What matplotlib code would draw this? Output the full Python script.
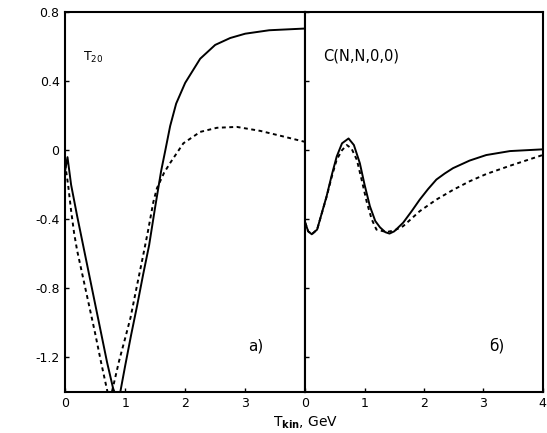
import matplotlib.pyplot as plt

# left panel: T20 (values below -1.4 get clipped by the axis, as in the original)
t20_x = [0, 0.04, 0.1, 0.2, 0.3, 0.4, 0.5, 0.6, 0.7, 0.8, 0.865, 0.92, 1.0, 1.1, 1.2, 1.3, 1.4,
         1.5, 1.6, 1.67, 1.75, 1.85, 2.0, 2.25, 2.5, 2.75, 3.0, 3.4, 4.0]
t20_solid = [-0.12, -0.04, -0.2, -0.38, -0.55, -0.72, -0.89, -1.06, -1.23, -1.38, -1.44, -1.4, -1.25,
             -1.07, -0.9, -0.72, -0.55, -0.33, -0.12, 0.0, 0.14, 0.27, 0.39, 0.53, 0.61, 0.65, 0.675, 0.695, 0.705]

t20d_x = [0, 0.05, 0.1, 0.15, 0.2, 0.3, 0.4, 0.5, 0.6, 0.7, 0.725, 0.78, 0.9, 1.0, 1.09, 1.2, 1.3,
          1.38, 1.47, 1.53, 1.65, 1.75, 1.97, 2.25, 2.53, 2.86, 3.25, 3.63, 4.0]
t20_dash = [-0.08, -0.2, -0.35, -0.48, -0.58, -0.74, -0.9, -1.06, -1.23, -1.39, -1.43, -1.4, -1.22,
            -1.09, -0.97, -0.78, -0.61, -0.47, -0.3, -0.22, -0.13, -0.074, 0.04, 0.106, 0.13, 0.135,
            0.112, 0.08, 0.048]

# right panel: C(N,N,0,0)
c_x = [0, 0.05, 0.11, 0.2, 0.36, 0.45, 0.53, 0.62, 0.73, 0.82, 0.92, 1.0, 1.09, 1.18, 1.26, 1.35, 1.42,
       1.5, 1.65, 1.8, 1.93, 2.07, 2.21, 2.35, 2.49, 2.77, 3.05, 3.45, 4.0]
c_solid = [-0.42, -0.47, -0.487, -0.46, -0.267, -0.14, -0.037, 0.04, 0.068, 0.03, -0.075, -0.2, -0.325,
           -0.41, -0.447, -0.475, -0.483, -0.47, -0.42, -0.35, -0.286, -0.225, -0.17, -0.135, -0.104,
           -0.06, -0.028, -0.005, 0.005]

cd_x = [0, 0.05, 0.11, 0.2, 0.36, 0.45, 0.53, 0.62, 0.7, 0.78, 0.87, 0.95, 1.04, 1.12, 1.2, 1.37,
        1.5, 1.65, 1.93, 2.21, 2.49, 2.77, 3.05, 3.45, 4.0]
c_dash = [-0.42, -0.47, -0.487, -0.46, -0.27, -0.15, -0.055, 0.0, 0.03, 0.01, -0.056, -0.17, -0.305,
          -0.4, -0.46, -0.474, -0.465, -0.44, -0.353, -0.286, -0.23, -0.18, -0.138, -0.09, -0.028]

plt.rcParams['font.family'] = ['DejaVu Sans']
plt.rcParams['font.size'] = 9

fig = plt.figure(figsize=(5.47, 4.33), dpi=100)
ax1 = fig.add_axes([0.119, 0.095, 0.439, 0.877])
ax2 = fig.add_axes([0.558, 0.095, 0.434, 0.877], sharey=ax1)

for ax in (ax1, ax2):
    ax.set_xlim(0, 4)
    ax.set_xticks([0, 1, 2, 3, 4])
    ax.tick_params(direction='in', length=3, width=1, pad=4)
    for s in ax.spines.values():
        s.set_linewidth(1.5)

ax1.set_ylim(-1.4, 0.8)
ax1.set_yticks([-1.2, -0.8, -0.4, 0, 0.4, 0.8])
ax1.set_yticklabels(['-1.2', '-0.8', '-0.4', '0', '0.4', '0.8'])
ax1.set_xticklabels(['0', '1', '2', '3', ''])
ax2.tick_params(labelleft=False)

ax1.plot(t20_x, t20_solid, color='black', lw=1.4)
ax1.plot(t20d_x, t20_dash, color='black', lw=1.4, linestyle=(0, (2, 1.8)))
ax2.plot(c_x, c_solid, color='black', lw=1.4)
ax2.plot(cd_x, c_dash, color='black', lw=1.4, linestyle=(0, (2, 1.8)))

ax1.text(0.3, 0.52, 'T$_{20}$', fontsize=9)
ax2.text(0.3, 0.52, 'C(N,N,0,0)', fontsize=10.5)
ax1.text(3.05, -1.16, 'а)', fontsize=11)
ax2.text(3.1, -1.16, 'б)', fontsize=11)

fig.text(0.558, 0.004, 'T$_{\\mathbf{kin}}$, GeV', ha='center', va='bottom', fontsize=10)

fig.savefig('out.png', dpi=100)
